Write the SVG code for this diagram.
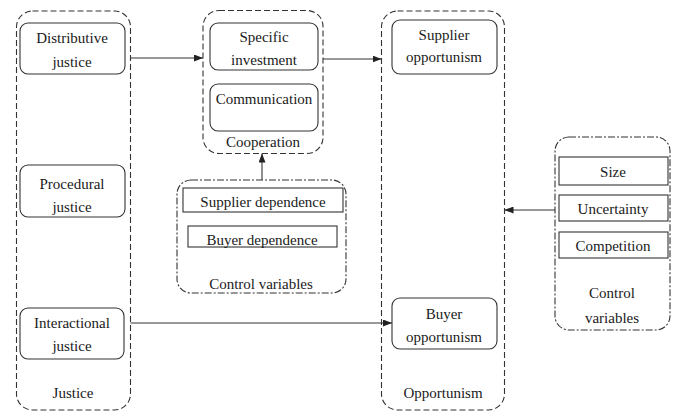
<svg xmlns="http://www.w3.org/2000/svg" width="673" height="412" viewBox="0 0 673 412">
<style>
text{font-family:'Liberation Serif','Tinos','Times New Roman','DejaVu Serif',serif;font-size:15px;fill:#1a1a1a;text-anchor:middle}
.grp{fill:none;stroke:#333;stroke-width:1.1;stroke-dasharray:6 3}
.ctl{fill:none;stroke:#333;stroke-width:1.1;stroke-dasharray:7 2 2 2}
.node{fill:#fff;stroke:#333;stroke-width:1.1}
.edge{fill:none;stroke:#333;stroke-width:1.1}
</style>
<defs>
<marker id="ah" markerWidth="9" markerHeight="7" refX="9" refY="3.5" orient="auto" markerUnits="userSpaceOnUse">
<path d="M0,0 L9,3.5 L0,7 z" fill="#222"/>
</marker>
</defs>
<rect width="673" height="412" fill="#fff"/>

<g id="justice">
<rect class="grp" x="16.5" y="11" width="114" height="399" rx="16"/>
<text x="73" y="398" font-family="Liberation Serif, serif">Justice</text>
</g>
<g id="distributive">
<rect class="node" x="20" y="23" width="105" height="51" rx="8"/>
<text x="72" y="43" font-family="Liberation Serif, serif">Distributive</text>
<text x="72" y="67" font-family="Liberation Serif, serif">justice</text>
</g>
<g id="procedural">
<rect class="node" x="20" y="165" width="105" height="52" rx="8"/>
<text x="72" y="189" font-family="Liberation Serif, serif">Procedural</text>
<text x="72" y="212" font-family="Liberation Serif, serif">justice</text>
</g>
<g id="interactional">
<rect class="node" x="20" y="308" width="104" height="51" rx="8"/>
<text x="72" y="328" font-family="Liberation Serif, serif">Interactional</text>
<text x="72" y="351" font-family="Liberation Serif, serif">justice</text>
</g>

<g id="cooperation">
<rect class="grp" x="203" y="10.5" width="120" height="143" rx="16"/>
<text x="263" y="147" font-family="Liberation Serif, serif">Cooperation</text>
</g>
<g id="specific">
<rect class="node" x="210" y="23" width="108" height="47" rx="8"/>
<text x="264" y="42" font-family="Liberation Serif, serif">Specific</text>
<text x="264" y="65" font-family="Liberation Serif, serif">investment</text>
</g>
<g id="communication">
<rect class="node" x="210" y="84" width="108" height="47" rx="8"/>
<text x="264" y="104" font-family="Liberation Serif, serif">Communication</text>
</g>

<g id="controlMid">
<rect class="ctl" x="177" y="180" width="169" height="113" rx="14"/>
<text x="261" y="289" font-family="Liberation Serif, serif">Control variables</text>
</g>
<g id="supplierDep">
<rect class="node" x="183" y="188" width="160" height="24"/>
<text x="263" y="207" font-family="Liberation Serif, serif">Supplier dependence</text>
</g>
<g id="buyerDep">
<rect class="node" x="188" y="226" width="149" height="21"/>
<text x="262" y="245" font-family="Liberation Serif, serif">Buyer dependence</text>
</g>

<g id="opportunism">
<rect class="grp" x="381.5" y="11" width="123" height="399" rx="16"/>
<text x="443" y="398" font-family="Liberation Serif, serif">Opportunism</text>
</g>
<g id="supplierOpp">
<rect class="node" x="392" y="20" width="105" height="54" rx="8"/>
<text x="444" y="40" font-family="Liberation Serif, serif">Supplier</text>
<text x="444" y="62" font-family="Liberation Serif, serif">opportunism</text>
</g>
<g id="buyerOpp">
<rect class="node" x="392" y="298" width="105" height="51" rx="8"/>
<text x="444" y="319" font-family="Liberation Serif, serif">Buyer</text>
<text x="444" y="342" font-family="Liberation Serif, serif">opportunism</text>
</g>

<g id="controlRight">
<rect class="ctl" x="555" y="137" width="115" height="193" rx="14"/>
<text x="612" y="298" font-family="Liberation Serif, serif">Control</text>
<text x="612" y="323" font-family="Liberation Serif, serif">variables</text>
</g>
<g id="size">
<rect class="node" x="559" y="157" width="109" height="28"/>
<text x="613" y="177" font-family="Liberation Serif, serif">Size</text>
</g>
<g id="uncertainty">
<rect class="node" x="559" y="195" width="109" height="26"/>
<text x="613" y="214" font-family="Liberation Serif, serif">Uncertainty</text>
</g>
<g id="competition">
<rect class="node" x="559" y="232" width="109" height="26"/>
<text x="613" y="251" font-family="Liberation Serif, serif">Competition</text>
</g>

<g id="connectors">
<line class="edge" x1="130.5" y1="58" x2="203" y2="58" marker-end="url(#ah)"/>
<line class="edge" x1="323" y1="59" x2="381.5" y2="59" marker-end="url(#ah)"/>
<line class="edge" x1="262" y1="180" x2="262" y2="153.5" marker-end="url(#ah)"/>
<line class="edge" x1="130.5" y1="323" x2="392" y2="323" marker-end="url(#ah)"/>
<line class="edge" x1="555" y1="210" x2="504.5" y2="210" marker-end="url(#ah)"/>
</g>
</svg>
